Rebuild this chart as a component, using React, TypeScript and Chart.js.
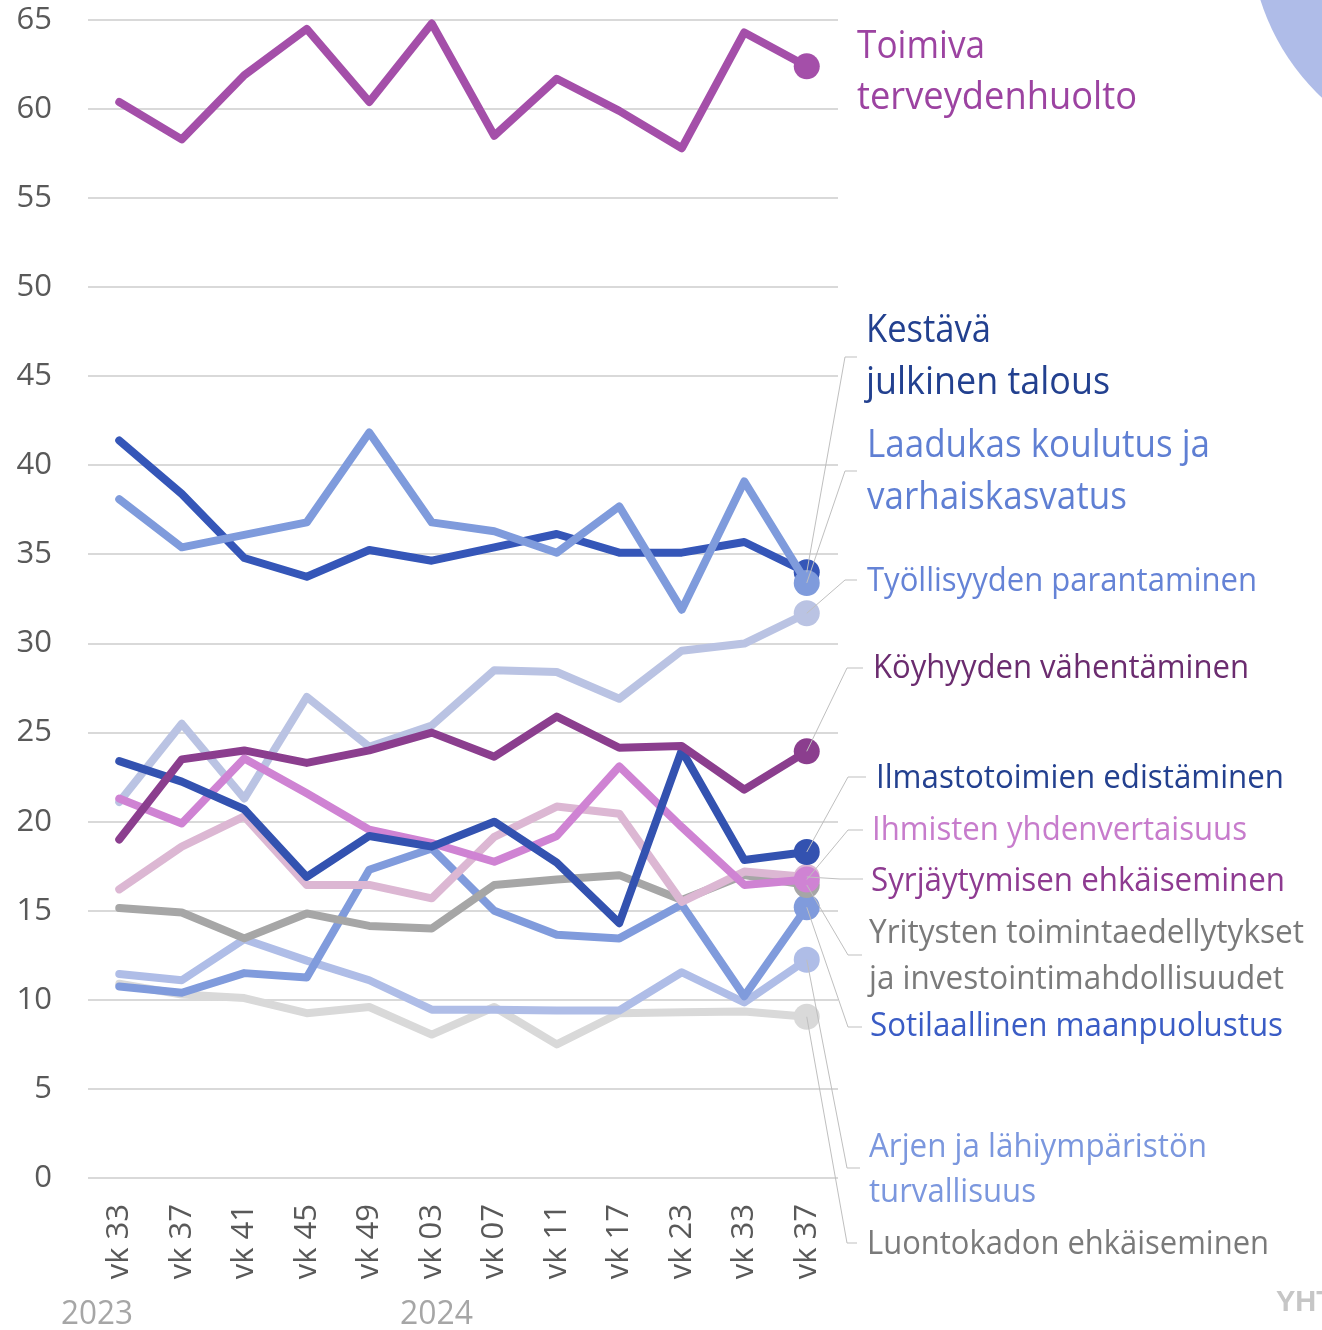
import React, { useEffect, useRef } from 'react';
import { Chart, registerables } from 'chart.js';

Chart.register(...registerables);

// ---------- DATA ----------
const categories = ['vk 33', 'vk 37', 'vk 41', 'vk 45', 'vk 49', 'vk 03', 'vk 07', 'vk 11', 'vk 17', 'vk 23', 'vk 33', 'vk 37'];
const yearLabels = ['2023', '2024'];
const yTicks = [0, 5, 10, 15, 20, 25, 30, 35, 40, 45, 50, 55, 60, 65];

const toimiva = [60.4, 58.3, 61.9, 64.5, 60.4, 64.8, 58.5, 61.7, 59.9, 57.8, 64.3, 62.4];
const kestava = [41.4, 38.4, 34.8, 33.75, 35.25, 34.65, 35.4, 36.15, 35.1, 35.1, 35.7, 34.0];
const laadukas = [38.1, 35.4, 36.1, 36.8, 41.85, 36.8, 36.3, 35.1, 37.7, 31.9, 39.1, 33.4];
const tyollisyys = [21.1, 25.5, 21.3, 27.0, 24.2, 25.4, 28.5, 28.4, 26.9, 29.6, 30.0, 31.7];
const koyhyys = [19.0, 23.5, 24.0, 23.3, 24.0, 25.0, 23.65, 25.9, 24.15, 24.25, 21.8, 23.95];
const ilmasto = [23.4, 22.25, 20.7, 16.9, 19.2, 18.6, 20.0, 17.7, 14.3, 24.0, 17.85, 18.3];
const ihmiset = [21.3, 19.9, 23.55, 21.6, 19.55, 18.8, 17.75, 19.2, 23.1, 19.7, 16.45, 16.75];
const syrjaytyminen = [16.2, 18.6, 20.3, 16.45, 16.45, 15.7, 19.15, 20.85, 20.45, 15.5, 17.2, 16.9];
const yritykset = [15.15, 14.9, 13.45, 14.85, 14.15, 14.0, 16.45, 16.75, 17.0, 15.6, 17.0, 16.45];
const sotilas = [10.75, 10.4, 11.5, 11.25, 17.3, 18.5, 15.0, 13.65, 13.45, 15.35, 10.2, 15.2];
const arki = [11.45, 11.1, 13.4, 12.2, 11.1, 9.45, 9.45, 9.4, 9.4, 11.55, 9.85, 12.25];
const luonto = [10.9, 10.3, 10.1, 9.25, 9.6, 8.05, 9.6, 7.5, 9.25, 9.3, 9.35, 9.05];

const seriesNames = [
  ['Toimiva', 'terveydenhuolto'],
  ['Kestävä', 'julkinen talous'],
  ['Laadukas koulutus ja', 'varhaiskasvatus'],
  ['Köyhyyden vähentäminen'],
  ['Ilmastotoimien edistäminen'],
  ['Ihmisten yhdenvertaisuus'],
  ['Syrjäytymisen ehkäiseminen'],
  ['Yritysten toimintaedellytykset', 'ja investointimahdollisuudet'],
  ['Sotilaallinen maanpuolustus'],
  ['Arjen ja lähiympäristön', 'turvallisuus'],
  ['Työllisyyden parantaminen'],
  ['Luontokadon ehkäiseminen'],
];
const seriesValues = [toimiva, kestava, laadukas, koyhyys, ilmasto, ihmiset, syrjaytyminen, yritykset, sotilas, arki, tyollisyys, luonto];

// ---------- STYLE / LAYOUT ----------
const lineColors = ['#a44fa9', '#3556b8', '#7f9bdc', '#8b3e8e', '#3352b0', '#cf83d3', '#dcb7d3', '#a6a6a6', '#809bdc', '#afbde7', '#bac3e3', '#d9d9d9'];
const textColors = ['#9c43a1', '#22408f', '#5f7fd3', '#6b2c6f', '#23408f', '#c77ccc', '#8e3b91', '#7a7a7a', '#3a5cc5', '#7b97de', '#6583d6', '#7a7a7a'];
// lower = drawn on top
const drawOrder = [0, 2, 1, 3, 4, 5, 6, 7, 8, 9, 10, 11];
// per label: x, line centers, font size, target widths, leader kink (null = no leader)
const labelLayout = [
  { x: 857, ys: [47, 98], size: 38, widths: [128, 280], kink: null },
  { x: 866, ys: [331, 383], size: 38, widths: [125, 244], kink: [845, 357, 857] },
  { x: 867, ys: [446, 498], size: 38, widths: [343, 260], kink: [845, 471, 857] },
  { x: 873, ys: [669], size: 32, widths: [376], kink: [847, 668, 863] },
  { x: 876, ys: [779], size: 32, widths: [408], kink: [848, 777, 866] },
  { x: 872, ys: [831], size: 32, widths: [375], kink: [848, 830, 863] },
  { x: 871, ys: [882], size: 32, widths: [414], kink: [840, 879, 863] },
  { x: 869, ys: [934, 980], size: 32, widths: [435, 415], kink: [848, 955, 862] },
  { x: 870, ys: [1027], size: 32, widths: [413], kink: [848, 1027, 862] },
  { x: 869, ys: [1148, 1193], size: 32, widths: [338, 167], kink: [847, 1168, 860] },
  { x: 867, ys: [582], size: 32, widths: [390], kink: [845, 580, 857] },
  { x: 867, ys: [1245], size: 32, widths: [402], kink: [847, 1243, 857] },
];
const yearLayout = [
  { x: 61, y: 1315, w: 72 },
  { x: 400, y: 1315, w: 73 },
];
const FONT = "'Open Sans', 'Noto Sans', sans-serif";

const decorPlugin = {
  id: 'decor',
  beforeDraw(chart: any) {
    const ctx = chart.ctx;
    ctx.save();
    ctx.fillStyle = '#ffffff';
    ctx.fillRect(0, 0, chart.width, chart.height);
    ctx.fillStyle = '#afbce8';
    ctx.beginPath();
    ctx.arc(1477, -68, 227, 0, Math.PI * 2);
    ctx.fill();
    ctx.restore();
  },
  afterDatasetsDraw(chart: any) {
    const ctx = chart.ctx;
    const xs = chart.scales.x;
    const ys = chart.scales.y;
    const last = categories.length - 1;
    ctx.save();
    // leader lines
    ctx.strokeStyle = '#bfbfbf';
    ctx.lineWidth = 1;
    labelLayout.forEach((lab, i) => {
      if (!lab.kink) return;
      const px = xs.getPixelForValue(last);
      const py = ys.getPixelForValue(seriesValues[i][last]);
      ctx.beginPath();
      ctx.moveTo(px, py);
      ctx.lineTo(lab.kink[0], lab.kink[1]);
      ctx.lineTo(lab.kink[2], lab.kink[1]);
      ctx.stroke();
    });
    // labels
    ctx.textBaseline = 'middle';
    ctx.textAlign = 'left';
    labelLayout.forEach((lab, i) => {
      ctx.fillStyle = textColors[i];
      ctx.font = `${lab.size}px ${FONT}`;
      seriesNames[i].forEach((line, j) => {
        ctx.fillText(line, lab.x, lab.ys[j], lab.widths[j]);
      });
    });
    // years
    ctx.fillStyle = '#a6a6a6';
    ctx.font = `33px ${FONT}`;
    yearLabels.forEach((t, i) => {
      const l = yearLayout[i];
      ctx.fillText(t, l.x, l.y, l.w);
    });
    // brand
    ctx.fillStyle = '#c6c6c6';
    ctx.font = "bold 29px 'Liberation Sans', Arial, sans-serif";
    ctx.textBaseline = 'alphabetic';
    ctx.fillText('YHT', 1276, 1311);
    ctx.restore();
  },
};

export default function App() {
  const ref = useRef<HTMLCanvasElement>(null);
  useEffect(() => {
    const last = categories.length - 1;
    const datasets = seriesValues.map((vals, i) => ({
      label: seriesNames[i].join(' '),
      data: vals,
      order: drawOrder[i],
      borderColor: lineColors[i],
      backgroundColor: lineColors[i],
      borderWidth: 8,
      borderJoinStyle: 'round' as const,
      borderCapStyle: 'round' as const,
      pointRadius: vals.map((_, k) => (k === last ? 13 : 0)),
      pointHoverRadius: 0,
      pointBorderWidth: 0,
      pointBackgroundColor: lineColors[i],
      tension: 0,
      fill: false,
      clip: false as any,
    }));
    const chart = new Chart(ref.current!, {
      type: 'line',
      data: { labels: categories, datasets },
      options: {
        responsive: false,
        animation: false,
        devicePixelRatio: 1,
        layout: { autoPadding: false, padding: { left: 0, top: 20, right: 484, bottom: 0 } },
        plugins: { legend: { display: false }, tooltip: { enabled: false } },
        scales: {
          x: {
            offset: true,
            grid: { display: false, drawTicks: false },
            border: { display: false },
            ticks: {
              maxRotation: 90,
              minRotation: 90,
              autoSkip: false,
              padding: 26,
              color: '#595959',
              font: { family: FONT, size: 31 },
            },
            afterFit: (s: any) => {
              s.height = 152;
              s.paddingLeft = 0;
              s.paddingRight = 0;
            },
          },
          y: {
            min: 0,
            max: 65,
            grid: { color: '#d9d9d9', lineWidth: 2, drawTicks: false },
            border: { display: false },
            afterBuildTicks: (s: any) => { s.ticks = yTicks.map((v) => ({ value: v })); },
            ticks: {
              padding: 36,
              color: '#595959',
              font: { family: FONT, size: 31 },
            },
            afterFit: (s: any) => {
              s.width = 88;
              s.paddingTop = 0;
              s.paddingBottom = 0;
            },
          },
        },
      },
      plugins: [decorPlugin],
    });
    return () => chart.destroy();
  }, []);
  return (
    <div style={{ position: 'absolute', left: 0, top: 0, width: 1322, height: 1330, background: '#fff', overflow: 'hidden' }}>
      <canvas ref={ref} width={1322} height={1330} style={{ display: 'block', width: 1322, height: 1330 }} />
    </div>
  );
}
